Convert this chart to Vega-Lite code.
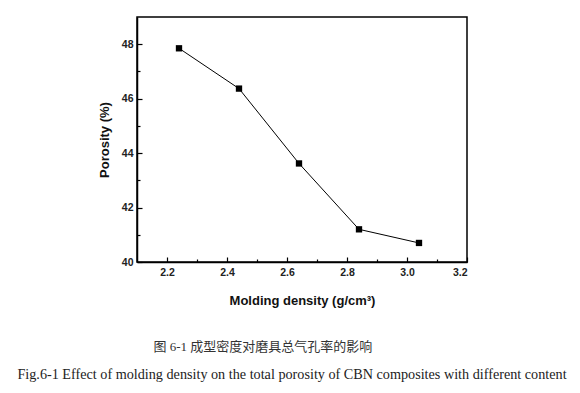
{
  "$schema": "https://vega.github.io/schema/vega-lite/v6.json",
  "width": 330,
  "height": 245,
  "autosize": {"type": "none"},
  "padding": {"left": 137, "top": 17, "right": 113, "bottom": 131},
  "background": "white",
  "config": {
    "view": {"stroke": "black", "strokeWidth": 1.5},
    "axis": {
      "domainColor": "black",
      "domainWidth": 1.5,
      "tickColor": "black",
      "tickWidth": 1.2,
      "grid": false,
      "labelFont": "Liberation Sans",
      "labelFontWeight": "bold",
      "labelFontSize": 10.5,
      "labelColor": "#222",
      "titleFont": "Liberation Sans",
      "titleFontWeight": "bold",
      "titleFontSize": 13,
      "titleColor": "#111"
    }
  },
  "title": {
    "text": "图 6-1 成型密度对磨具总气孔率的影响\u00a0\u00a0\u00a0\u00a0\u00a0\u00a0\u00a0\u00a0\u00a0\u00a0\u00a0\u00a0\u00a0\u00a0\u00a0\u2800",
    "subtitle": "Fig.6-1 Effect of molding density on the total porosity of CBN composites with different content",
    "orient": "bottom",
    "anchor": "middle",
    "dx": -10,
    "offset": 33,
    "font": "Liberation Serif, Noto Sans CJK SC, DejaVu Sans",
    "fontSize": 13,
    "fontWeight": "normal",
    "color": "#333",
    "subtitleFont": "Liberation Serif",
    "subtitleFontSize": 14.2,
    "subtitleColor": "#222",
    "subtitlePadding": 14
  },
  "data": {
    "values": [
      {"density": 2.24, "porosity": 47.85},
      {"density": 2.44, "porosity": 46.37},
      {"density": 2.64, "porosity": 43.62},
      {"density": 2.84, "porosity": 41.2},
      {"density": 3.04, "porosity": 40.7}
    ]
  },
  "encoding": {
    "x": {
      "field": "density",
      "type": "quantitative",
      "scale": {"domain": [2.1, 3.2], "nice": false, "zero": false},
      "axis": {
        "title": "Molding density (g/cm³)",
        "values": [2.2, 2.3, 2.4, 2.5, 2.6, 2.7, 2.8, 2.9, 3.0, 3.1, 3.2],
        "format": ".1f",
        "labelExpr": "round(datum.value * 10) % 2 == 0 ? datum.label : ''",
        "tickSize": {"condition": {"test": "round(datum.value * 10) % 2 == 0", "value": -5}, "value": -3},
        "labelPadding": 10,
        "titlePadding": 17
      }
    },
    "y": {
      "field": "porosity",
      "type": "quantitative",
      "scale": {"domain": [40, 49], "nice": false, "zero": false},
      "axis": {
        "title": "Porosity (%)",
        "values": [40, 41, 42, 43, 44, 45, 46, 47, 48],
        "format": "d",
        "labelExpr": "datum.value % 2 == 0 ? datum.label : ''",
        "tickSize": {"condition": {"test": "datum.value % 2 == 0", "value": -5}, "value": -3},
        "labelPadding": 9,
        "titlePadding": 10
      }
    }
  },
  "layer": [
    {"mark": {"type": "line", "color": "black", "strokeWidth": 1}},
    {"mark": {"type": "square", "size": 40, "color": "black", "filled": true, "opacity": 1}}
  ]
}
